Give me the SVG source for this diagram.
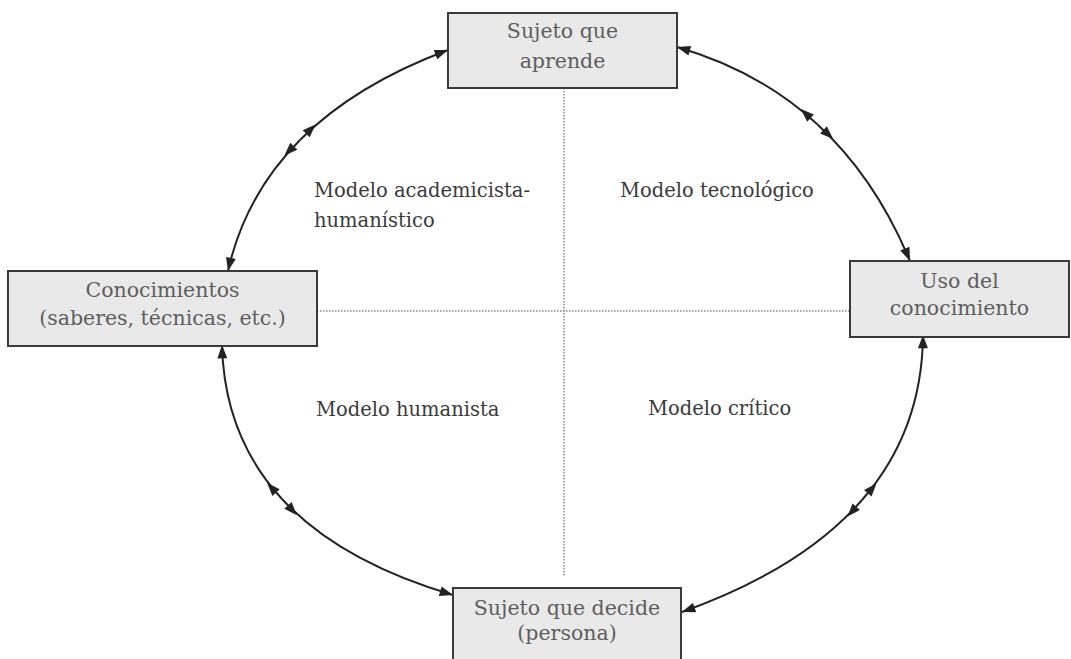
<svg xmlns="http://www.w3.org/2000/svg" width="1071" height="659" viewBox="0 0 1071 659">
<style>
.box{fill:#e9e9e9;stroke:#3a3a3a;stroke-width:2}
.bt{font-family:"DejaVu Serif","Liberation Serif",serif;font-size:20.5px;fill:#5e5e5e;text-anchor:middle}
.lbl{font-family:"DejaVu Serif","Liberation Serif",serif;font-size:19.5px;fill:#3a3a3a}
.arc{fill:none;stroke:#222;stroke-width:2;marker-start:url(#mid);marker-end:url(#end)}
.dot{fill:none;stroke:#8a8a8a;stroke-width:1.5;stroke-dasharray:1.5 1.5}
</style>
<defs>
<marker id="end" markerUnits="userSpaceOnUse" markerWidth="14" markerHeight="10" refX="12" refY="4.5" orient="auto" viewBox="0 0 12 9">
<path d="M0,0 L12,4.5 L0,9 z" fill="#222"/>
</marker>
<marker id="mid" markerUnits="userSpaceOnUse" markerWidth="22" markerHeight="10" refX="-8" refY="4.5" orient="auto" viewBox="-8 0 20 9">
<path d="M0,0 L12,4.5 L0,9 z" fill="#222"/>
</marker>
</defs>
<rect width="1071" height="659" fill="#ffffff"/>
<g id="dividers">
<line class="dot" x1="564" y1="88" x2="564" y2="576"/>
<line class="dot" x1="317" y1="311" x2="850" y2="311"/>
</g>
<g id="connectors">
<path class="arc" d="M300,140 Q245,195.25 228,271"/>
<path class="arc" d="M300,140 Q355,84.75 448,50"/>
<path class="arc" d="M817,124 Q758.75,70.5 677,47"/>
<path class="arc" d="M817,124 Q875.25,177.5 910,261"/>
<path class="arc" d="M862,500 Q801.75,569.25 682,612"/>
<path class="arc" d="M862,500 Q922.25,430.75 923,335"/>
<path class="arc" d="M282,499 Q224.25,436.5 222,345"/>
<path class="arc" d="M282,499 Q339.75,561.5 453,595"/>
</g>
<g id="node-sujeto-aprende">
<rect class="box" x="448" y="13" width="229" height="75"/>
<text class="bt" x="562.5" y="38">Sujeto que</text>
<text class="bt" x="562.5" y="68">aprende</text>
</g>
<g id="node-conocimientos">
<rect class="box" x="8" y="271" width="309" height="75"/>
<text class="bt" x="162.5" y="297">Conocimientos</text>
<text class="bt" x="162.5" y="325">(saberes, técnicas, etc.)</text>
</g>
<g id="node-uso">
<rect class="box" x="850" y="261" width="219" height="76"/>
<text class="bt" x="959.5" y="288">Uso del</text>
<text class="bt" x="959.5" y="315">conocimiento</text>
</g>
<g id="node-sujeto-decide">
<rect class="box" x="453" y="588" width="228" height="76"/>
<text class="bt" x="567" y="615">Sujeto que decide</text>
<text class="bt" x="567" y="640">(persona)</text>
</g>
<g id="labels">
<text class="lbl" x="314" y="197">Modelo academicista-</text>
<text class="lbl" x="314" y="227">humanístico</text>
<text class="lbl" x="620" y="197">Modelo tecnológico</text>
<text class="lbl" x="316" y="416">Modelo humanista</text>
<text class="lbl" x="648" y="415">Modelo crítico</text>
</g>
</svg>
